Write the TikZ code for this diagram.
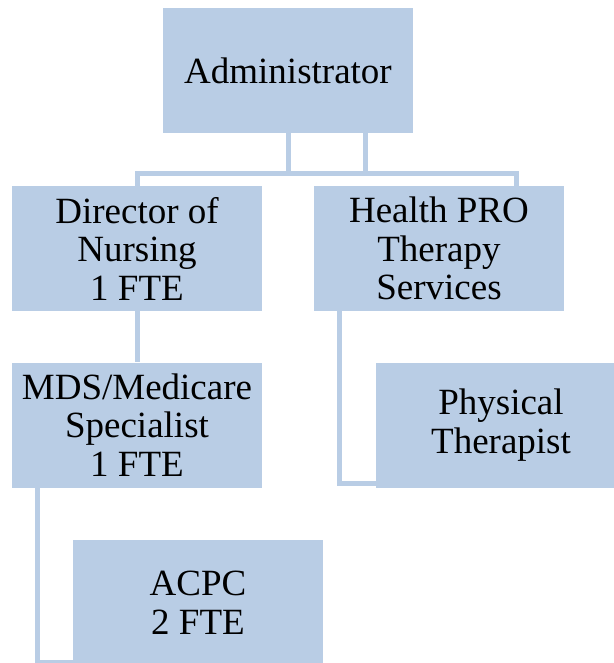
\documentclass[tikz,border=0pt]{standalone}
\usepackage{fontspec}
\setmainfont{Liberation Serif}
\definecolor{boxblue}{RGB}{185,205,229}
\begin{document}
\begin{tikzpicture}[x=1pt,y=-1pt]
		\tikzset{recstyle/.style={rectangle, fill=boxblue, minimum width=250pt, minimum height=125pt, inner sep=0pt, align=center, font=\fontsize{37}{38.5}\selectfont}}
		\tikzset{linkstyle/.style={draw=boxblue, line width=5pt}}
		\useasboundingbox (0,0) rectangle (613,663);
		
		\node[recstyle] (rectadmin) at (288,70.5) {Administrator};
		\node[recstyle] (rectdirector) at (137,248.5) {Director of\\ Nursing\\ 1 FTE};
		\node[recstyle] (recthealth) at (439,248.5) {Health PRO\\ Therapy\\ Services};
		\node[recstyle] (rectmds) at (137,425) {MDS/Medicare\\ Specialist\\ 1 FTE};
		\node[recstyle] (rectphysical) at (501,425) {Physical\\ Therapist};
		\node[recstyle] (rectacpc) at (198,602.5) {ACPC\\ 2 FTE};
		
		\draw [linkstyle] ([xshift=77pt]rectadmin.south) -- ++(0,40) -| (rectdirector.north);
		\draw [linkstyle] (rectadmin.south) -- ++(0,40) -| ([xshift=77pt]recthealth.north);
		\draw [linkstyle] (rectdirector) to (rectmds);
		\draw [linkstyle] ([xshift=-100pt]recthealth.south) |- ([yshift=-58pt]rectphysical.west);
		\draw [linkstyle] ([xshift=-100pt]rectmds.south) |- ([yshift=-60pt]rectacpc.west);
		
		\end{tikzpicture}
\end{document}
